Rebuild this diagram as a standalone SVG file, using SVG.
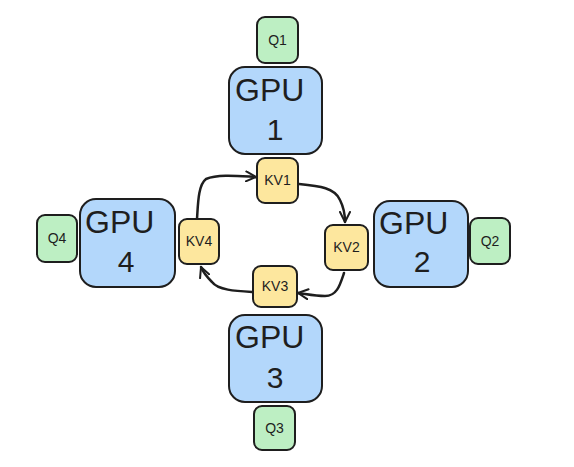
<svg xmlns="http://www.w3.org/2000/svg" width="574" height="467" viewBox="0 0 574 467">
<defs>
<style>
.gpu{fill:#b3d7fb;stroke:#1e1e1e;stroke-width:2}
.q{fill:#bdefc3;stroke:#1e1e1e;stroke-width:2}
.kv{fill:#fde79e;stroke:#1e1e1e;stroke-width:2}
.big{font-family:"Liberation Sans",Arial,sans-serif;font-size:32px;fill:#1e1e1e}
.num{font-family:"Liberation Sans",Arial,sans-serif;font-size:30px;fill:#1e1e1e;text-anchor:middle}
.sm{font-family:"Liberation Sans",Arial,sans-serif;font-size:14px;fill:#1e1e1e;text-anchor:middle}
.conn{fill:none;stroke:#1e1e1e;stroke-width:2.5;stroke-linecap:round}
</style>
<marker id="ah" viewBox="0 0 12 12" refX="11" refY="6" markerWidth="12" markerHeight="12" markerUnits="userSpaceOnUse" orient="auto">
<path d="M1,1 L11,6 L1,11" fill="none" stroke="#1e1e1e" stroke-width="2" stroke-linecap="round" stroke-linejoin="round"/>
</marker>
</defs>
<rect width="574" height="467" fill="#ffffff"/>
<g id="connectors">
<path class="conn" d="M299,184 C320,186 335,188 340,200 C344,208 345,214 345,222" marker-end="url(#ah)"/>
<path class="conn" d="M344,273 C340,285 337,296 325,296 C315,296 306,294 298,293" marker-end="url(#ah)"/>
<path class="conn" d="M252,292 C235,291 218,290 212,282 C206,276 203,272 201,267" marker-end="url(#ah)"/>
<path class="conn" d="M197,219 C198,205 198,185 206,179 C218,174 238,176 256,177" marker-end="url(#ah)"/>
</g>
<g id="gpu1">
<rect class="gpu" x="229" y="67" width="93" height="87" rx="16"/>
<text class="big" x="235" y="101">GPU</text>
<text class="num" x="275" y="140">1</text>
</g>
<g id="gpu2">
<rect class="gpu" x="374" y="201" width="94" height="86" rx="16"/>
<text class="big" x="379" y="234">GPU</text>
<text class="num" x="422" y="272">2</text>
</g>
<g id="gpu3">
<rect class="gpu" x="229" y="315" width="93" height="87" rx="16"/>
<text class="big" x="235" y="348">GPU</text>
<text class="num" x="275" y="388">3</text>
</g>
<g id="gpu4">
<rect class="gpu" x="80" y="199" width="95" height="88" rx="16"/>
<text class="big" x="85" y="233">GPU</text>
<text class="num" x="126" y="272">4</text>
</g>
<g id="q1">
<rect class="q" x="257" y="17" width="41" height="46" rx="8"/>
<text class="sm" x="277.5" y="45">Q1</text>
</g>
<g id="q2">
<rect class="q" x="470" y="218" width="40" height="46" rx="8"/>
<text class="sm" x="490" y="246">Q2</text>
</g>
<g id="q3">
<rect class="q" x="254" y="406" width="41" height="44" rx="8"/>
<text class="sm" x="274.5" y="433">Q3</text>
</g>
<g id="q4">
<rect class="q" x="37" y="215" width="40" height="47" rx="8"/>
<text class="sm" x="57" y="243">Q4</text>
</g>
<g id="kv1">
<rect class="kv" x="257" y="158" width="41" height="45" rx="8"/>
<text class="sm" x="277.5" y="185">KV1</text>
</g>
<g id="kv2">
<rect class="kv" x="325" y="225" width="43" height="45" rx="8"/>
<text class="sm" x="346.5" y="252">KV2</text>
</g>
<g id="kv3">
<rect class="kv" x="253" y="266" width="44" height="41" rx="8"/>
<text class="sm" x="275" y="291">KV3</text>
</g>
<g id="kv4">
<rect class="kv" x="179" y="219" width="40" height="45" rx="8"/>
<text class="sm" x="199" y="246">KV4</text>
</g>
</svg>
